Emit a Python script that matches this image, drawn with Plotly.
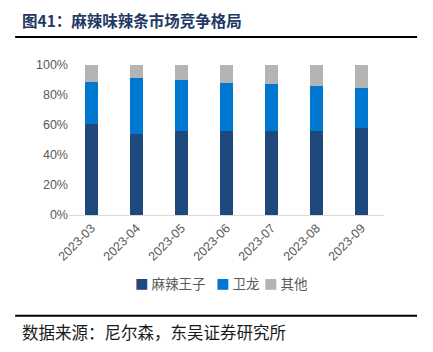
import plotly.graph_objects as go

months = ["2023-03", "2023-04", "2023-05", "2023-06", "2023-07", "2023-08", "2023-09"]
mala_wangzi = [60.8, 53.9, 55.9, 55.9, 55.9, 55.9, 57.7]
weilong = [27.7, 37.3, 34.0, 32.2, 31.3, 30.0, 27.3]
others = [11.5, 8.8, 10.1, 11.9, 12.8, 14.1, 15.0]
series_names = ["麻辣王子", "卫龙", "其他"]
colors = ["#1F497D", "#0077D1", "#B4B4B4"]
y_ticks = [0, 20, 40, 60, 80, 100]

font_cjk = "Noto Sans CJK SC"
fig = go.Figure()
for name, vals, c in zip(series_names, [mala_wangzi, weilong, others], colors):
    fig.add_trace(go.Bar(x=months, y=vals, name=name, marker=dict(color=c, line=dict(width=0)),
                         showlegend=False))

fig.update_layout(
    barmode="stack",
    bargap=0.69,
    width=433, height=352,
    margin=dict(l=69, r=49, t=65, b=137),
    plot_bgcolor="white", paper_bgcolor="white",
    xaxis=dict(type="category", tickangle=-45,
               tickfont=dict(family="Arial, Liberation Sans", size=12.5, color="#595959"),
               showline=True, linecolor="#D9D9D9", linewidth=1, ticks=""),
    yaxis=dict(range=[0, 100], tickvals=y_ticks, ticktext=[f"{v}%" for v in y_ticks],
               tickfont=dict(family="Arial, Liberation Sans", size=12.5, color="#595959"),
               showgrid=False, zeroline=False, ticks="", ticklen=0),
)

# legend (manual, to match compact spacing)
legend_x = [0.203, 0.460, 0.613]
for name, c, lx in zip(series_names, colors, legend_x):
    fig.add_annotation(text=f"<span style='color:{c}'>■</span> {name}", xref="paper", yref="paper",
                       x=lx, y=-0.453, xanchor="left", yanchor="middle", showarrow=False,
                       font=dict(family=font_cjk, size=13.5, color="#595959"))

fig.add_annotation(text="<b>图41：麻辣味辣条市场竞争格局</b>", xref="paper", yref="paper",
                   x=-0.155, y=1.3, xanchor="left", yanchor="middle", showarrow=False,
                   font=dict(family=font_cjk, size=15.5, color="#1F3864"))
fig.add_shape(type="line", xref="paper", yref="paper", x0=-0.171, x1=1.105, y0=1.187, y1=1.187,
              line=dict(color="#000000", width=2))
fig.add_shape(type="line", xref="paper", yref="paper", x0=-0.171, x1=1.105, y0=-0.671, y1=-0.671,
              line=dict(color="#000000", width=2))
fig.add_annotation(text="数据来源：尼尔森，东吴证券研究所", xref="paper", yref="paper",
                   x=-0.155, y=-0.783, xanchor="left", yanchor="middle", showarrow=False,
                   font=dict(family=font_cjk, size=16.5, color="#1a1a1a"))

fig.write_html("out.html")
